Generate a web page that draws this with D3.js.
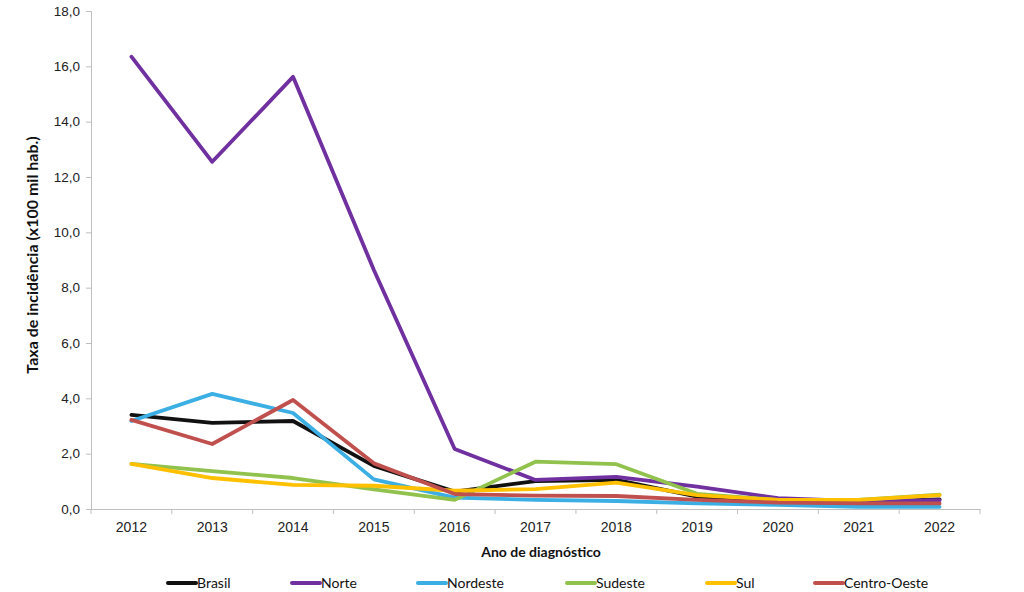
<!DOCTYPE html>
<html><head><meta charset="utf-8">
<script src="https://cdn.jsdelivr.net/npm/d3@7"></script>
<style>
html,body{margin:0;padding:0;background:#fff;}
svg{display:block;font-family:Lato,"Open Sans",sans-serif;}
</style></head>
<body>
<svg id="c" width="1024" height="592"></svg>
<script>
const years = ["2012","2013","2014","2015","2016","2017","2018","2019","2020","2021","2022"];
const yTicks = [0,2,4,6,8,10,12,14,16,18];
const seriesNames = ["Brasil","Norte","Nordeste","Sudeste","Sul","Centro-Oeste"];
const brasil      = [3.40,3.11,3.18,1.56,0.63,1.01,1.05,0.45,0.28,0.26,0.35];
const norte       = [16.35,12.55,15.62,8.64,2.17,1.05,1.16,0.81,0.39,0.28,0.32];
const nordeste    = [3.18,4.16,3.47,1.07,0.41,0.33,0.29,0.20,0.15,0.08,0.08];
const sudeste     = [1.63,1.37,1.12,0.71,0.33,1.71,1.62,0.55,0.33,0.33,0.52];
const sul         = [1.63,1.12,0.87,0.84,0.66,0.72,0.95,0.50,0.33,0.33,0.50];
const centroOeste = [3.22,2.35,3.94,1.65,0.54,0.48,0.47,0.33,0.23,0.20,0.20];
const colors = ["#111111","#7030A0","#3BAEE3","#92C24E","#FFC000","#C0504D"];

const values = [brasil,norte,nordeste,sudeste,sul,centroOeste];
const series = seriesNames.map((n,i)=>({name:n,color:colors[i],vals:values[i]}));

const svg = d3.select("#c");
const L=91, R=980, T=11, B=509;
const x = d3.scaleBand().domain(years).range([L,R]);
const y = d3.scaleLinear().domain([0,18]).range([B,T]);
const axisColor="#BFBFBF";
const fmt = v => d3.format(".1f")(v).replace(".",",");

// Y axis
const ya = svg.append("g").attr("transform",`translate(${L},0)`)
  .call(d3.axisLeft(y).tickValues(yTicks).tickFormat(fmt).tickSize(5).tickPadding(6));
ya.select(".domain").attr("stroke",axisColor);
ya.selectAll(".tick line").attr("stroke",axisColor);
ya.selectAll(".tick text").attr("font-size",13.5).attr("fill","#222");

// X axis
const xa = svg.append("g").attr("transform",`translate(0,${B})`)
  .call(d3.axisBottom(x).tickSize(0).tickPadding(13));
xa.select(".domain").attr("stroke",axisColor);
xa.selectAll(".tick text").attr("font-size",14).attr("fill","#222");
const bounds = years.map(d=>x(d)).concat([R]);
xa.selectAll(".bt").data(bounds).join("line").attr("class","bt")
  .attr("x1",d=>d).attr("x2",d=>d).attr("y1",0).attr("y2",5).attr("stroke",axisColor);

// Lines
const line = d3.line().x((d,i)=>x(years[i])+x.bandwidth()/2).y(d=>y(d));
svg.append("g").selectAll("path").data(series).join("path")
  .attr("d",d=>line(d.vals)).attr("fill","none").attr("stroke",d=>d.color)
  .attr("stroke-width",3.8).attr("stroke-linejoin","round").attr("stroke-linecap","round");

// Titles
svg.append("text").attr("transform",`translate(38,255) rotate(-90)`)
  .attr("text-anchor","middle").attr("font-size",16).attr("font-weight","bold").attr("fill","#111")
  .text("Taxa de incidência (x100 mil hab.)");
svg.append("text").attr("x",541).attr("y",557).attr("text-anchor","middle")
  .attr("font-size",14).attr("font-weight","bold").attr("fill","#111").text("Ano de diagnóstico");

// Legend
const legendX = [167,291,417,566,706,814];
const lg = svg.append("g").selectAll("g").data(series).join("g")
  .attr("transform",(d,i)=>`translate(${legendX[i]},583)`);
lg.append("line").attr("x1",1).attr("x2",29).attr("stroke",d=>d.color).attr("stroke-width",4).attr("stroke-linecap","round");
lg.append("text").attr("x",30).attr("dy","0.35em").attr("font-size",14).attr("fill","#111").text(d=>d.name);
</script>
</body></html>
